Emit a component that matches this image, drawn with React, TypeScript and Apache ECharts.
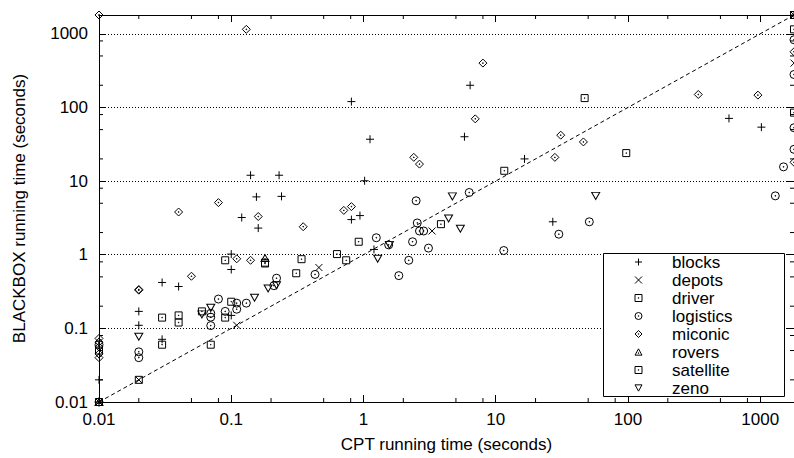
import React, { useEffect, useRef } from "react";
import * as echarts from "echarts";

const X_MIN = 0.01;
const X_MAX = 1800;
const Y_MIN = 0.01;
const Y_MAX = 1800;

const minorTicks = [0.02, 0.05, 0.08, 0.2, 0.5, 0.8, 2, 5, 8, 20, 50, 80, 200, 500, 800];

const legendNames = ["blocks", "depots", "driver", "logistics", "miconic", "rovers", "satellite", "zeno"];

// [CPT time, BLACKBOX time]
const blocks = [
  [0.01, 0.01], [0.01, 0.02], [0.02, 0.17], [0.02, 0.11], [0.03, 0.42], [0.03, 0.071], [0.04, 0.37],
  [0.1, 1.02], [0.1, 0.63], [0.1, 0.15], [0.12, 3.2], [0.16, 2.3], [0.14, 12], [0.155, 6.1],
  [0.81, 120], [1.12, 37], [0.23, 12], [0.24, 6.2], [1.02, 10.1], [6.4, 200], [5.8, 40], [16.5, 20],
  [0.81, 3.0], [0.94, 3.4], [1.2, 1.18], [27, 2.8], [580, 71], [1020, 54], [1800, 1800],
];
const depots = [
  [0.01, 0.01], [0.02, 0.02], [0.11, 0.11], [0.46, 0.67], [3.3, 2.1], [1800, 400], [1800, 1800],
];
const driver = [
  [0.01, 0.01], [0.01, 0.05], [0.02, 0.02], [0.03, 0.14], [0.03, 0.06], [0.04, 0.15], [0.04, 0.12],
  [0.06, 0.17], [0.07, 0.06], [0.09, 0.14], [0.09, 0.84], [0.1, 0.23], [0.18, 0.78], [0.34, 0.87],
  [0.31, 0.56], [0.92, 1.5], [11.6, 13.8], [47, 134], [1800, 1800], [1800, 1150],
];
const logistics = [
  [0.01, 0.01], [0.01, 0.06], [0.02, 0.048], [0.02, 0.04], [0.08, 0.25], [0.07, 0.16], [0.07, 0.142],
  [0.07, 0.109], [0.09, 0.17], [0.11, 0.22], [0.11, 0.182], [0.13, 0.22], [0.22, 0.48], [0.21, 0.38],
  [0.43, 0.54], [1.25, 1.7], [1.55, 1.36], [2.35, 1.5], [2.2, 0.84], [1.85, 0.52], [3.1, 1.23],
  [2.55, 2.7], [2.65, 2.1], [2.85, 2.1], [2.5, 5.4], [11.5, 1.14], [30, 1.9], [51, 2.8], [6.3, 7],
  [1500, 15.6], [1300, 6.3], [1800, 830], [1800, 280], [1800, 53], [1800, 27],
];
const miconic = [
  [0.01, 1800], [0.01, 0.073], [0.01, 0.065], [0.01, 0.056], [0.01, 0.045], [0.01, 0.04],
  [0.13, 1150], [8, 400], [7, 70], [2.4, 21], [2.65, 17], [0.04, 3.8], [0.08, 5.1], [0.16, 3.3],
  [0.02, 0.337], [0.02, 0.33], [0.05, 0.51], [0.11, 0.88], [0.14, 0.84], [0.35, 2.4], [0.71, 4.0],
  [0.81, 4.5], [31, 42], [28, 21], [46, 34], [340, 150], [960, 147], [1800, 570], [1800, 18],
];
const rovers = [
  [0.01, 0.01], [0.18, 0.9],
];
const satellite = [
  [0.18, 0.76], [0.63, 1.02], [0.74, 0.84], [3.85, 2.6], [97, 24], [1800, 85], [1800, 1800],
];
const zeno = [
  [0.02, 0.077], [0.06, 0.155], [0.07, 0.19], [0.15, 0.26], [0.19, 0.347], [0.22, 0.385],
  [1.28, 0.88], [1.57, 1.36], [4.4, 3.1], [5.4, 2.25], [4.7, 6.2], [57, 6.3],
];
const diagonal = [[X_MIN, Y_MIN], [X_MAX, Y_MAX]];

const DOT = "M4.6,4.6L5.4,4.6L5.4,5.4L4.6,5.4Z";
const SYM = {
  plus: "path://M5,0L5,10M0,5L10,5",
  cross: "path://M0,0L10,10M10,0L0,10",
  square: "path://M0,0L10,0L10,10L0,10Z" + DOT,
  circle: "path://M0,5A5,5,0,1,1,10,5A5,5,0,1,1,0,5Z" + DOT,
  diamond: "path://M5,0L10,5L5,10L0,5Z" + DOT,
  triUp: "path://M5,0L10,9L0,9ZM4.6,5.6L5.4,5.6L5.4,6.4L4.6,6.4Z",
  triDown: "path://M0,0L10,0L5,9Z",
};

const FONT = "Liberation Sans, Arial, Helvetica, sans-serif";
const FS = 17;

function scatter(name: string, data: number[][], symbol: string, size: number | number[]) {
  return {
    name,
    type: "scatter",
    data,
    symbol,
    symbolSize: size,
    itemStyle: { color: "rgba(0,0,0,0)", borderColor: "#000", borderWidth: 1, opacity: 1 },
    emphasis: { disabled: true },
    z: 3,
  };
}

const fmt = (v: number) => String(+v.toPrecision(6));

function logAxis(position: string, main: boolean, extra: any = {}) {
  const vertical = position === "left" || position === "right";
  return {
    type: "log",
    logBase: 10,
    position,
    min: vertical ? Y_MIN : X_MIN,
    max: vertical ? Y_MAX : X_MAX,
    axisLine: { show: true, onZero: false, lineStyle: { color: "#000", width: 1 } },
    axisTick: { show: true, inside: true, length: 7, lineStyle: { color: "#000", width: 1 } },
    axisLabel: { show: main, showMaxLabel: false, color: "#000", fontSize: FS, fontFamily: FONT, formatter: fmt },
    splitLine: { show: false },
    minorTick: { show: false },
    ...extra,
  };
}

export default function App() {
  const ref = useRef<HTMLDivElement>(null);
  useEffect(() => {
    if (!ref.current) return;
    const chart = echarts.init(ref.current, null, { renderer: "svg" });
    const minorX = minorTicks.map((v) => [v, Y_MIN]);
    const minorY = minorTicks.map((v) => [X_MIN, v]);
    chart.setOption({
      animation: false,
      backgroundColor: "#fff",
      grid: { left: 99, right: -1, top: 15, bottom: 54, containLabel: false },
      xAxis: [
        logAxis("bottom", true, {
          name: "CPT running time (seconds)",
          nameLocation: "middle",
          nameGap: 34,
          nameTextStyle: { color: "#000", fontSize: FS, fontFamily: FONT },
          axisLabel: { show: true, showMaxLabel: false, color: "#000", fontSize: FS, fontFamily: FONT, margin: 9, formatter: fmt },
        }),
        logAxis("top", false),
      ],
      yAxis: [
        logAxis("left", true, {
          name: "BLACKBOX running time (seconds)",
          nameLocation: "middle",
          nameGap: 71,
          nameTextStyle: { color: "#000", fontSize: FS, fontFamily: FONT },
          axisLabel: { show: true, showMaxLabel: false, color: "#000", fontSize: FS, fontFamily: FONT, margin: 11, formatter: fmt },
          splitLine: { show: true, lineStyle: { color: "#000", width: 1, type: [1, 2] } },
        }),
        logAxis("right", false),
      ],
      legend: {
        data: legendNames,
        orient: "vertical",
        left: 634.5,
        top: 253,
        padding: 0,
        itemGap: 0,
        itemWidth: 7,
        itemHeight: 7,
        selectedMode: false,
        itemStyle: { color: "rgba(0,0,0,0)", borderColor: "#000", borderWidth: 1 },
        textStyle: { color: "#000", fontSize: FS, fontFamily: FONT, lineHeight: 18, padding: [0, 0, 0, 25] },
        z: 20,
      },
      graphic: [
        {
          type: "rect",
          shape: { x: 603.5, y: 253.5, width: 181, height: 143 },
          style: { fill: "#fff", stroke: "#000", lineWidth: 1 },
          z: 10,
          silent: true,
        },
      ],
      series: [
        {
          name: "y=x",
          type: "line",
          data: diagonal,
          symbol: "none",
          lineStyle: { color: "#000", width: 1, type: [4, 3] },
          z: 2,
          silent: true,
        },
        {
          name: "minorX",
          type: "custom",
          data: minorX,
          silent: true,
          z: 2,
          renderItem: (params: any, api: any) => {
            const b = api.coord([api.value(0), Y_MIN]);
            const t = api.coord([api.value(0), Y_MAX]);
            return {
              type: "group",
              children: [
                { type: "line", shape: { x1: b[0], y1: b[1], x2: b[0], y2: b[1] - 4 }, style: { stroke: "#000", lineWidth: 1 } },
                { type: "line", shape: { x1: t[0], y1: t[1], x2: t[0], y2: t[1] + 4 }, style: { stroke: "#000", lineWidth: 1 } },
              ],
            };
          },
        },
        {
          name: "minorY",
          type: "custom",
          data: minorY,
          silent: true,
          z: 2,
          renderItem: (params: any, api: any) => {
            const l = api.coord([X_MIN, api.value(1)]);
            const r = api.coord([X_MAX, api.value(1)]);
            return {
              type: "group",
              children: [
                { type: "line", shape: { x1: l[0], y1: l[1], x2: l[0] + 4, y2: l[1] }, style: { stroke: "#000", lineWidth: 1 } },
                { type: "line", shape: { x1: r[0], y1: r[1], x2: r[0] - 4, y2: r[1] }, style: { stroke: "#000", lineWidth: 1 } },
              ],
            };
          },
        },
        scatter("blocks", blocks, SYM.plus, 8),
        scatter("depots", depots, SYM.cross, 7),
        scatter("driver", driver, SYM.square, 7),
        scatter("logistics", logistics, SYM.circle, 8),
        scatter("miconic", miconic, SYM.diamond, 8),
        scatter("rovers", rovers, SYM.triUp, [8, 7]),
        scatter("satellite", satellite, SYM.square, 7),
        scatter("zeno", zeno, SYM.triDown, [8, 7]),
      ],
    });
    return () => chart.dispose();
  }, []);
  return (
    <div
      ref={ref}
      style={{ position: "fixed", left: 0, top: 0, width: 794, height: 458, background: "#fff" }}
    />
  );
}
